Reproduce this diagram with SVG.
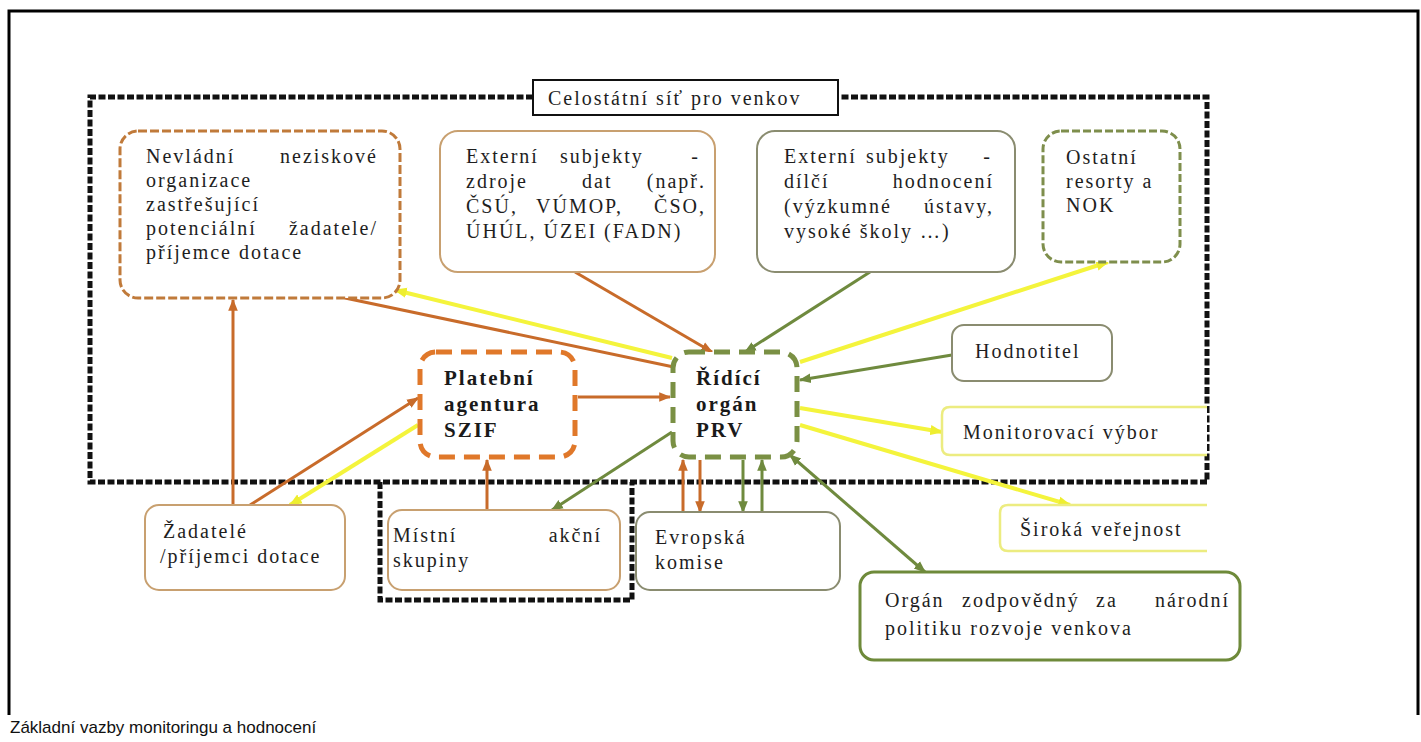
<svg xmlns="http://www.w3.org/2000/svg" width="1421" height="742" viewBox="0 0 1421 742">
<defs>
<style>
.t{font-family:"Liberation Serif","Times New Roman",serif;font-size:20px;letter-spacing:2px;fill:#1e1e1e}
.b{font-family:"Liberation Serif","Times New Roman",serif;font-size:21px;letter-spacing:2px;font-weight:bold;fill:#1a1a1a}
.e{text-anchor:end}
.dot{fill:none;stroke:#111;stroke-width:5;stroke-dasharray:7 2.5}
.co{fill:none;stroke:#C86B2A;stroke-width:3}
.cg{fill:none;stroke:#6F8A3E;stroke-width:3}
.cy{fill:none;stroke:#F4F43C;stroke-width:4}
</style>
<marker id="mo" viewBox="0 0 10 10" refX="9" refY="5" markerWidth="12" markerHeight="12" markerUnits="userSpaceOnUse" orient="auto-start-reverse"><path d="M0,1 L10,5 L0,9 z" fill="#C86B2A"/></marker>
<marker id="mg" viewBox="0 0 10 10" refX="9" refY="5" markerWidth="12" markerHeight="12" markerUnits="userSpaceOnUse" orient="auto-start-reverse"><path d="M0,1 L10,5 L0,9 z" fill="#6F8A3E"/></marker>
<marker id="my" viewBox="0 0 10 10" refX="9" refY="5" markerWidth="13" markerHeight="13" markerUnits="userSpaceOnUse" orient="auto-start-reverse"><path d="M0,1 L10,5 L0,9 z" fill="#EEEE30"/></marker>
</defs>
<rect width="1421" height="742" fill="#fff"/>
<path d="M9,715 V11 H1418 V715" fill="none" stroke="#000" stroke-width="3"/>
<text x="10" y="733" style="font-family:'Liberation Sans',Arial,sans-serif;font-size:17px;fill:#111">Základní vazby monitoringu a hodnocení</text>

<g id="network-frame">
<path class="dot" d="M533,97 H90 V482 H1207 V97 H838"/>
<path class="dot" d="M380,482 V600 H632 V482"/>
</g>

<g id="connectors">
<path class="co" d="M345,298 L688,370" marker-end="url(#mo)"/>
<path class="co" d="M575,272 L712,352" marker-end="url(#mo)"/>
<path class="co" d="M578,397 L670,397" marker-end="url(#mo)"/>
<path class="co" d="M233,505 L233,300" marker-end="url(#mo)"/>
<path class="co" d="M250,505 L418,398" marker-end="url(#mo)"/>
<path class="co" d="M487,510 L487,460" marker-end="url(#mo)"/>
<path class="co" d="M683,512 L683,460" marker-end="url(#mo)"/>
<path class="co" d="M700,460 L700,512" marker-end="url(#mo)"/>
<path class="cg" d="M870,272 L745,352" marker-end="url(#mg)"/>
<path class="cg" d="M952,355 L800,380" marker-end="url(#mg)"/>
<path class="cg" d="M672,432 L552,510" marker-end="url(#mg)"/>
<path class="cg" d="M790,455 L925,572" marker-start="url(#mg)" marker-end="url(#mg)"/>
<path class="cg" d="M743,460 L743,512" marker-end="url(#mg)"/>
<path class="cg" d="M762,512 L762,460" marker-end="url(#mg)"/>
<path class="cy" d="M672,358 L395,290" marker-end="url(#my)"/>
<path class="cy" d="M800,362 L1108,262" marker-end="url(#my)"/>
<path class="cy" d="M800,408 L942,432" marker-end="url(#my)"/>
<path class="cy" d="M800,425 L1070,505" marker-end="url(#my)"/>
<path class="cy" d="M418,425 L290,505" marker-end="url(#my)"/>
</g>

<g id="title">
<rect x="533" y="80" width="305" height="35" fill="#fff" stroke="#111" stroke-width="2"/>
<text class="t" x="548" y="105">Celostátní síť pro venkov</text>
</g>

<g id="nevladni">
<rect x="120" y="131" width="280" height="167" rx="18" fill="#fff" stroke="#C07A3A" stroke-width="3" stroke-dasharray="9 3"/>
<text class="t" x="146" y="163">Nevládní</text><text class="t e" x="378" y="163">neziskové</text>
<text class="t" x="146" y="187">organizace</text>
<text class="t" x="146" y="211">zastřešující</text>
<text class="t" x="146" y="235">potenciální</text><text class="t e" x="378" y="235">žadatele/</text>
<text class="t" x="146" y="259">příjemce dotace</text>
</g>

<g id="zdroje">
<rect x="440" y="131" width="275" height="141" rx="18" fill="#fff" stroke="#C8A070" stroke-width="2"/>
<text class="t" x="466" y="163">Externí</text><text class="t" x="560" y="163">subjekty</text><text class="t e" x="700" y="163">-</text>
<text class="t" x="466" y="188">zdroje</text><text class="t" x="582" y="188">dat</text><text class="t e" x="706" y="188">(např.</text>
<text class="t" x="466" y="213">ČSÚ,</text><text class="t" x="536" y="213">VÚMOP,</text><text class="t e" x="706" y="213">ČSO,</text>
<text class="t" x="466" y="238">ÚHÚL, ÚZEI (FADN)</text>
</g>

<g id="dilci">
<rect x="757" y="131" width="258" height="141" rx="18" fill="#fff" stroke="#8A8C70" stroke-width="2"/>
<text class="t" x="784" y="163">Externí</text><text class="t" x="866" y="163">subjekty</text><text class="t e" x="992" y="163">-</text>
<text class="t" x="784" y="188">dílčí</text><text class="t e" x="994" y="188">hodnocení</text>
<text class="t" x="784" y="213">(výzkumné</text><text class="t e" x="994" y="213">ústavy,</text>
<text class="t" x="784" y="238">vysoké školy …)</text>
</g>

<g id="ostatni">
<rect x="1043" y="131" width="137" height="131" rx="18" fill="#fff" stroke="#7E8E4C" stroke-width="3" stroke-dasharray="8 3"/>
<text class="t" x="1066" y="164">Ostatní</text>
<text class="t" x="1066" y="188">resorty a</text>
<text class="t" x="1066" y="212">NOK</text>
</g>

<g id="platebni">
<rect x="420" y="352" width="155" height="105" rx="16" fill="#fff" stroke="#E0782A" stroke-width="5" stroke-dasharray="16 9"/>
<text class="b" x="444" y="385">Platební</text>
<text class="b" x="444" y="411">agentura</text>
<text class="b" x="444" y="437">SZIF</text>
</g>

<g id="ridici">
<rect x="673" y="352" width="124" height="105" rx="16" fill="#fff" stroke="#7A9044" stroke-width="5" stroke-dasharray="16 9"/>
<text class="b" x="696" y="385">Řídící</text>
<text class="b" x="696" y="411">orgán</text>
<text class="b" x="696" y="437">PRV</text>
</g>

<g id="hodnotitel">
<rect x="952" y="325" width="160" height="56" rx="12" fill="#fff" stroke="#8A8C70" stroke-width="2"/>
<text class="t" x="975" y="358">Hodnotitel</text>
</g>

<g id="monitorovaci">
<path d="M1207,407 H950 Q942,407 942,415 V447 Q942,455 950,455 H1207 Z" fill="#fff" stroke="none"/>
<path d="M1207,407 H950 Q942,407 942,415 V447 Q942,455 950,455 H1207" fill="none" stroke="#ECEC80" stroke-width="2.5"/>
<text class="t" x="963" y="439">Monitorovací výbor</text>
</g>

<g id="siroka">
<path d="M1207,505 H1008 Q1000,505 1000,513 V543 Q1000,551 1008,551 H1207 Z" fill="#fff" stroke="none"/>
<path d="M1207,505 H1008 Q1000,505 1000,513 V543 Q1000,551 1008,551 H1207" fill="none" stroke="#ECEC80" stroke-width="2.5"/>
<text class="t" x="1020" y="536">Široká veřejnost</text>
</g>

<g id="zadatele">
<rect x="145" y="505" width="200" height="85" rx="14" fill="#fff" stroke="#C8A070" stroke-width="2"/>
<text class="t" x="163" y="538">Žadatelé</text>
<text class="t" x="160" y="563">/příjemci dotace</text>
</g>

<g id="mistni">
<rect x="388" y="510" width="232" height="80" rx="14" fill="#fff" stroke="#C8A070" stroke-width="2"/>
<text class="t" x="393" y="542">Místní</text><text class="t e" x="602" y="542">akční</text>
<text class="t" x="393" y="567">skupiny</text>
</g>

<g id="evropska">
<rect x="636" y="512" width="204" height="78" rx="14" fill="#fff" stroke="#8A8C70" stroke-width="2"/>
<text class="t" x="655" y="544">Evropská</text>
<text class="t" x="655" y="569">komise</text>
</g>

<g id="organ">
<rect x="860" y="572" width="380" height="88" rx="14" fill="#fff" stroke="#6E8A3A" stroke-width="3"/>
<text class="t" x="885" y="607">Orgán</text><text class="t" x="962" y="607">zodpovědný</text><text class="t" x="1096" y="607">za</text><text class="t e" x="1230" y="607">národní</text>
<text class="t" x="885" y="635">politiku rozvoje venkova</text>
</g>
</svg>
